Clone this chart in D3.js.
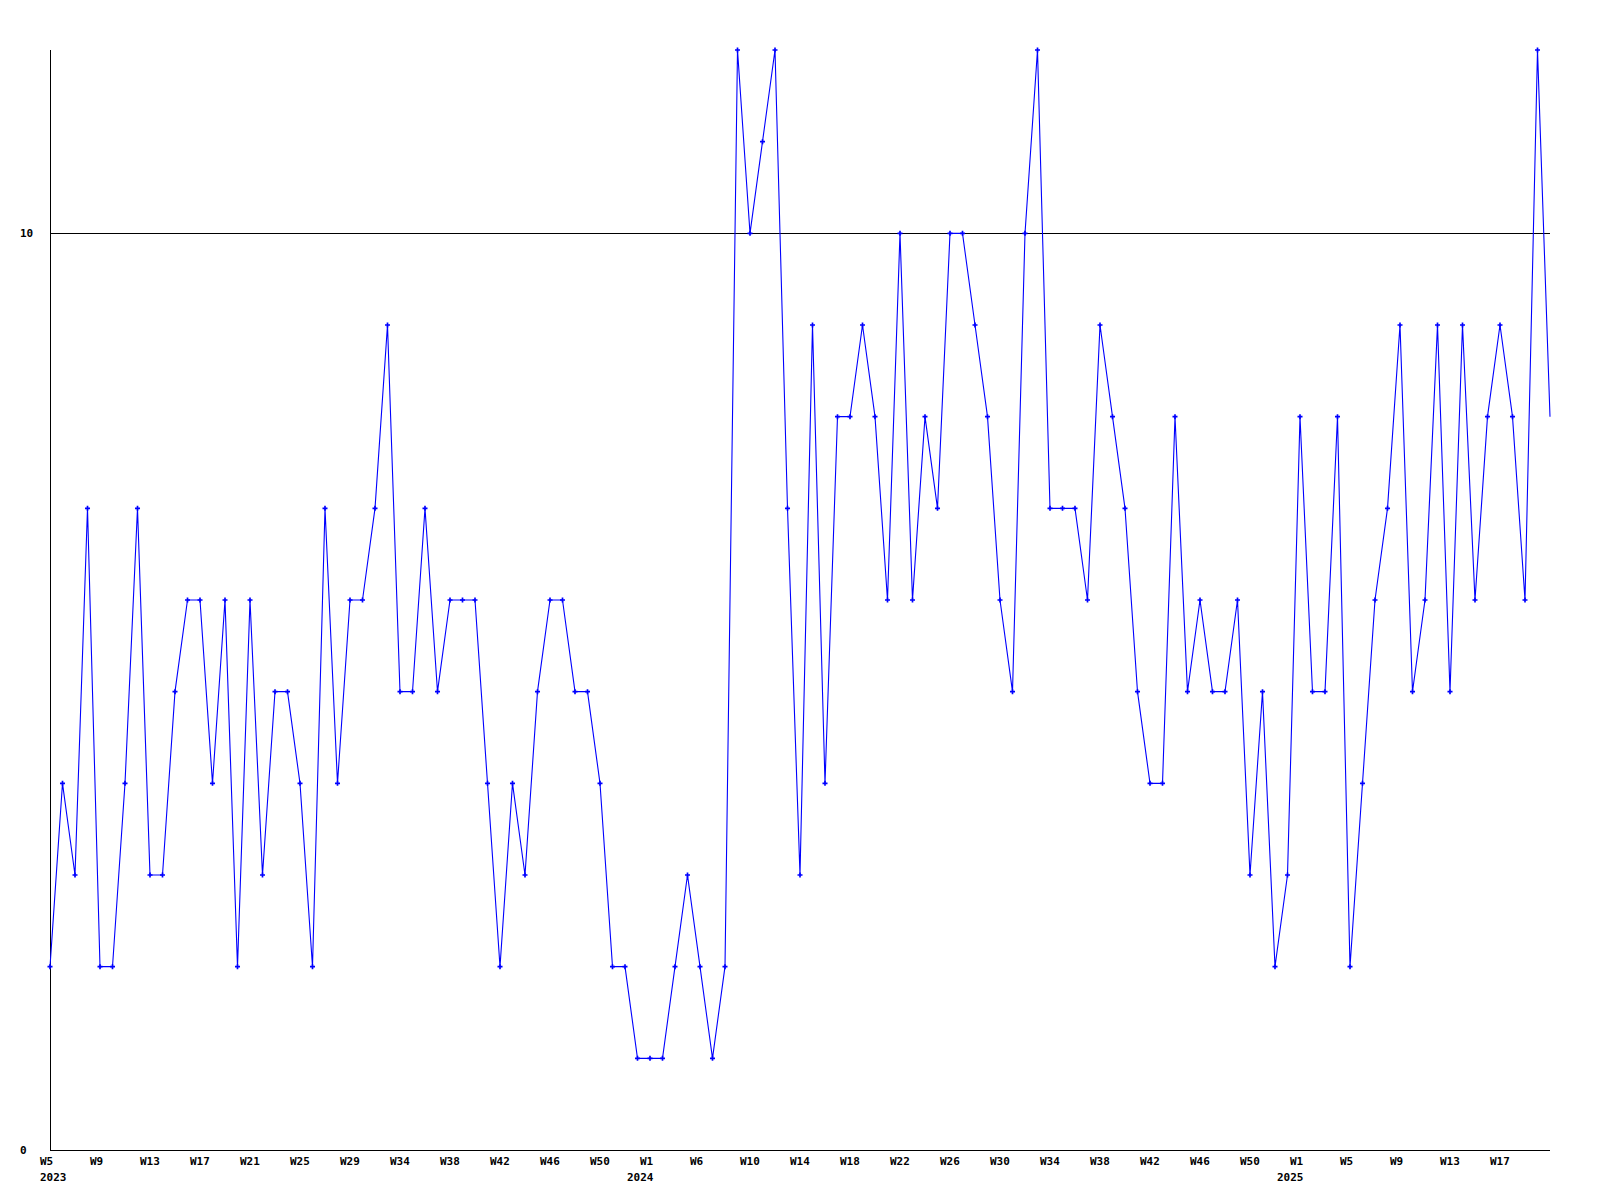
<!DOCTYPE html>
<html>
<head>
<meta charset="utf-8">
<script src="https://cdn.jsdelivr.net/npm/d3@7"></script>
<style>
  html, body { margin: 0; padding: 0; background: #ffffff; }
  svg { display: block; }
  text { font-family: "DejaVu Sans Mono", "Liberation Mono", monospace; font-size: 11px; font-weight: bold; fill: #000; }
</style>
</head>
<body>
<script>
// Weekly values, 2023 W5 .. 2025 W21
const values = [
  2,4,3,7,2,2,4,7,3,3,
  5,6,6,4,6,2,6,3,5,5,
  4,2,7,4,6,6,7,9,5,5,
  7,5,6,6,6,4,2,4,3,5,
  6,6,5,5,4,2,2,1,1,1,
  2,3,2,1,2,12,10,11,12,7,
  3,9,4,8,8,9,8,6,10,6,
  8,7,10,10,9,8,6,5,10,12,
  7,7,7,6,9,8,7,5,4,4,
  8,5,6,5,5,6,3,5,2,3,
  8,5,5,8,2,4,6,7,9,5,
  6,9,5,9,6,8,9,8,6,12,
  8
];
// x-axis week labels and their point index
const tickIndex = [0,4,8,12,16,20,24,28,32,36,40,44,48,52,56,60,64,68,72,76,80,84,88,92,96,100,104,108,112,116];
const tickLabels = ["W5","W9","W13","W17","W21","W25","W29","W34","W38","W42","W46","W50",
                    "W1","W6","W10","W14","W18","W22","W26","W30","W34","W38","W42","W46","W50",
                    "W1","W5","W9","W13","W17"];
const yearIndex = [0,48,100];
const yearLabels = ["2023","2024","2025"];
const yTicks = [0,10];
const yMax = 12;

const W = 1600, H = 1200;
const svg = d3.select("body").append("svg").attr("width", W).attr("height", H);
svg.append("rect").attr("width", W).attr("height", H).attr("fill", "#fff");

const x = d3.scaleLinear().domain([0, values.length - 1]).range([50, 1550]);
const y = d3.scaleLinear().domain([0, yMax]).range([1150, 50]);

// y labels
svg.selectAll("text.ylab").data(yTicks).enter().append("text")
  .attr("class", "ylab")
  .attr("x", 20)
  .attr("y", d => y(d) + 4)
  .text(d => d);

// reference line at 10
svg.append("line")
  .attr("x1", x(0)).attr("x2", x(values.length - 1))
  .attr("y1", Math.round(y(10)) + 0.5).attr("y2", Math.round(y(10)) + 0.5)
  .attr("stroke", "#000").attr("stroke-width", 1).attr("shape-rendering", "crispEdges");

// axes
svg.append("line")
  .attr("x1", 50.5).attr("x2", 50.5)
  .attr("y1", y(yMax)).attr("y2", y(0))
  .attr("stroke", "#000").attr("stroke-width", 1).attr("shape-rendering", "crispEdges");
svg.append("line")
  .attr("x1", 50).attr("x2", x(values.length - 1))
  .attr("y1", y(0) + 0.5).attr("y2", y(0) + 0.5)
  .attr("stroke", "#000").attr("stroke-width", 1).attr("shape-rendering", "crispEdges");

// week labels
svg.selectAll("text.wk").data(tickIndex).enter().append("text")
  .attr("class", "wk")
  .attr("x", d => x(d) - 10)
  .attr("y", 1165)
  .text((d, i) => tickLabels[i]);

// year labels
svg.selectAll("text.yr").data(yearIndex).enter().append("text")
  .attr("class", "yr")
  .attr("x", d => Math.max(x(d) - 23, x(0) - 10))
  .attr("y", 1181)
  .text((d, i) => yearLabels[i]);

// data line
const line = d3.line().x((d, i) => x(i)).y(d => y(d));
svg.append("path")
  .datum(values)
  .attr("d", line)
  .attr("fill", "none")
  .attr("stroke", "#0000ff")
  .attr("stroke-width", 1.1);

// markers (last point without marker)
const sym = d3.symbol().type(d3.symbolCross).size(14);
svg.selectAll("path.mk").data(values.slice(0, values.length - 1)).enter().append("path")
  .attr("class", "mk")
  .attr("d", sym)
  .attr("transform", (d, i) => `translate(${x(i)},${y(d)})`)
  .attr("fill", "#0000ff");
</script>
</body>
</html>
